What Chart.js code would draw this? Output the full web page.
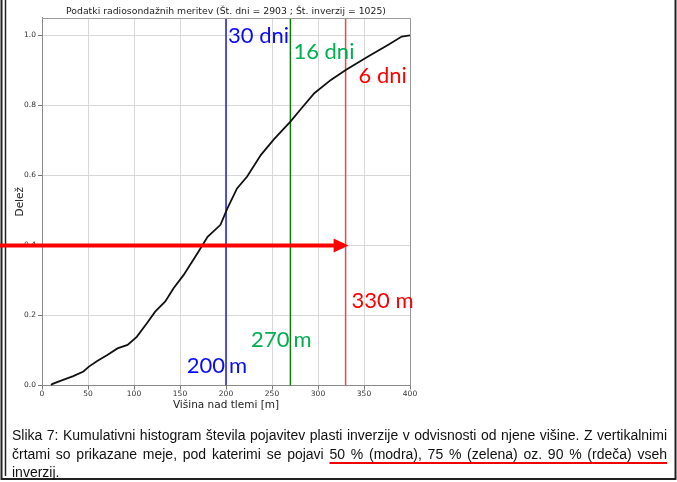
<!DOCTYPE html>
<html>
<head>
<meta charset="utf-8">
<script src="https://cdn.jsdelivr.net/npm/chart.js@4.4.1/dist/chart.umd.min.js"></script>
<style>
    html, body { margin: 0; padding: 0; background: #fff; }
    #wrap { position: relative; width: 677px; height: 482px; overflow: hidden; }
    #graf { position: absolute; left: 0; top: 0; }
    #opis {
        position: absolute; left: 12px; top: 426px; width: 655px;
        font-family: "Liberation Sans", Arial, sans-serif; font-size: 14px;
        line-height: 18.5px; color: #111;
    }
    #opis .just { text-align: justify; text-align-last: justify; white-space: nowrap; }
    #opis .mark { text-decoration: underline; text-decoration-color: #e00; text-decoration-thickness: 1.5px; text-underline-offset: 3px; }
</style>
</head>
<body>
<div id="wrap">
    <canvas id="graf" width="677" height="482"></canvas>
    <div id="opis">
        <div class="just">Slika 7: Kumulativni histogram števila pojavitev plasti inverzije v odvisnosti od njene višine. Z vertikalnimi</div>
        <div class="just">črtami so prikazane meje, pod katerimi se pojavi <span class="mark">50 % (modra), 75 % (zelena) oz. 90 % (rdeča) vseh</span></div>
        <div>inverzij.</div>
    </div>
</div>
<script>
// kumulativni delež inverzij glede na višino (m)
const visine = [10, 11, 20, 34, 45, 51, 60, 71, 82, 93, 103, 114, 123, 134, 143, 154, 169, 180, 194, 201.5, 212, 223, 238, 252, 270, 283, 296, 314, 331, 354, 376, 391, 400];
const delezi = [0, 0.004, 0.013, 0.027, 0.04, 0.054, 0.07, 0.087, 0.106, 0.116, 0.139, 0.178, 0.211, 0.24, 0.278, 0.316, 0.378, 0.425, 0.459, 0.506, 0.563, 0.597, 0.659, 0.703, 0.754, 0.795, 0.835, 0.873, 0.903, 0.939, 0.973, 0.997, 1.0];

// meje za 50 %, 75 % in 90 % inverzij
const mejeVisine = [200, 270, 330];
const mejeDnevi = ["30 dni", "16 dni", "6 dni"];
const mejeNapisi = ["200 m", "270 m", "330 m"];
const puscicaDelez = 0.4;

const xTicks = [0, 50, 100, 150, 200, 250, 300, 350, 400];
const yTicks = [0, 0.2, 0.4, 0.6, 0.8, 1.0];

const crtaBarve = ["#1c1cd6", "#137a13", "#e64a4a"];
const napisBarve = ["#0a0aff", "#00b050", "#ff0000"];

const krivulja = visine.map((v, i) => ({ x: v, y: delezi[i] }));
const mejeSets = mejeVisine.map((v, i) => ({
    data: [{ x: v, y: 0 }, { x: v, y: 1.05 }],
    borderColor: crtaBarve[i],
    borderWidth: 1.5,
    pointRadius: 0
}));

const dodatki = {
    id: "dodatki",
    beforeDraw(chart) {
        const ctx = chart.ctx;
        ctx.save();
        ctx.strokeStyle = "#222";
        ctx.lineWidth = 2;
        ctx.beginPath();
        ctx.moveTo(1.5, 0); ctx.lineTo(1.5, 479);
        ctx.lineTo(675.5, 479); ctx.lineTo(675.5, 0);
        ctx.stroke();
        ctx.lineWidth = 1.5;
        ctx.beginPath();
        ctx.moveTo(5.5, 0); ctx.lineTo(5.5, 476);
        ctx.stroke();
        ctx.restore();
    },
    afterDraw(chart) {
        const ctx = chart.ctx;
        const xs = chart.scales.x, ys = chart.scales.y;
        const a = chart.chartArea;
        ctx.save();
        // okvir grafa
        ctx.strokeStyle = "#9a9a9a";
        ctx.lineWidth = 1;
        ctx.beginPath();
        ctx.moveTo(a.left, a.top + 0.5); ctx.lineTo(a.right + 0.5, a.top + 0.5); ctx.lineTo(a.right + 0.5, a.bottom);
        ctx.stroke();

        // napisi ob mejah
        ctx.font = "22px Lato, 'Open Sans', sans-serif";
        ctx.textBaseline = "alphabetic";
        const dniPos = [[2, 43], [3, 59], [13, 83]];
        const mPos = [373, 347, 308];
        mejeVisine.forEach((v, i) => {
            const px = xs.getPixelForValue(v);
            ctx.fillStyle = napisBarve[i];
            ctx.textAlign = "left";
            ctx.fillText(mejeDnevi[i], px + dniPos[i][0], dniPos[i][1]);
            const [st, en] = mejeNapisi[i].split(" ");
            if (i < 2) {
                ctx.textAlign = "right";
                ctx.fillText(st, px - 1, mPos[i]);
                ctx.textAlign = "left";
                ctx.fillText(en, px + 3, mPos[i]);
            } else {
                ctx.textAlign = "left";
                ctx.fillText(mejeNapisi[i], px + 6, mPos[i]);
            }
        });

        // puščica pri deležu 0.4
        const py = ys.getPixelForValue(puscicaDelez);
        const konec = xs.getPixelForValue(mejeVisine[2]) + 3;
        ctx.strokeStyle = "#ff0000";
        ctx.fillStyle = "#ff0000";
        ctx.lineWidth = 4;
        ctx.beginPath();
        ctx.moveTo(0, py); ctx.lineTo(konec - 14, py);
        ctx.stroke();
        ctx.beginPath();
        ctx.moveTo(konec, py);
        ctx.lineTo(konec - 15, py - 7);
        ctx.lineTo(konec - 15, py + 7);
        ctx.closePath();
        ctx.fill();
        ctx.restore();
    }
};

new Chart(document.getElementById("graf"), {
    type: "line",
    data: {
        datasets: [{
            data: krivulja,
            borderColor: "#111",
            borderWidth: 1.8,
            pointRadius: 0,
            tension: 0
        }, ...mejeSets]
    },
    options: {
        responsive: false,
        animation: false,
        layout: { padding: { left: 0, right: 267, top: 0, bottom: 62.5 } },
        plugins: {
            legend: { display: false },
            tooltip: { enabled: false },
            title: {
                display: true,
                fullSize: false,
                text: "Podatki radiosondažnih meritev (Št. dni = 2903 ; Št. inverzij = 1025)",
                color: "#222",
                font: { family: "'DejaVu Sans'", size: 9.3, weight: "normal" },
                padding: { top: 6, bottom: 0.8 }
            }
        },
        scales: {
            x: {
                type: "linear",
                min: 0, max: 400,
                afterBuildTicks: s => { s.ticks = xTicks.map(v => ({ value: v })); },
                afterFit: s => { s.height = 34; },
                ticks: { color: "#333", font: { family: "'DejaVu Sans'", size: 7.5 }, padding: 0, maxRotation: 0 },
                grid: { color: "#d8d8d8", tickColor: "#777", tickLength: 4 },
                border: { color: "#8a8a8a" },
                title: { display: true, text: "Višina nad tlemi [m]", color: "#222", font: { family: "'DejaVu Sans'", size: 10.5 }, padding: { top: 0, bottom: 8 } }
            },
            y: {
                min: 0, max: 1.05,
                afterBuildTicks: s => { s.ticks = yTicks.map(v => ({ value: v })); },
                afterFit: s => { s.width = 42; },
                ticks: { color: "#333", font: { family: "'DejaVu Sans'", size: 7.5 }, padding: 2, callback: v => v.toFixed(1) },
                grid: { color: "#d8d8d8", tickColor: "#777", tickLength: 4 },
                border: { color: "#8a8a8a" },
                title: { display: true, text: "Delež", color: "#222", font: { family: "'DejaVu Sans'", size: 10.5 }, padding: { top: 14, bottom: 0 } }
            }
        }
    },
    plugins: [dodatki]
});
</script>
</body>
</html>
